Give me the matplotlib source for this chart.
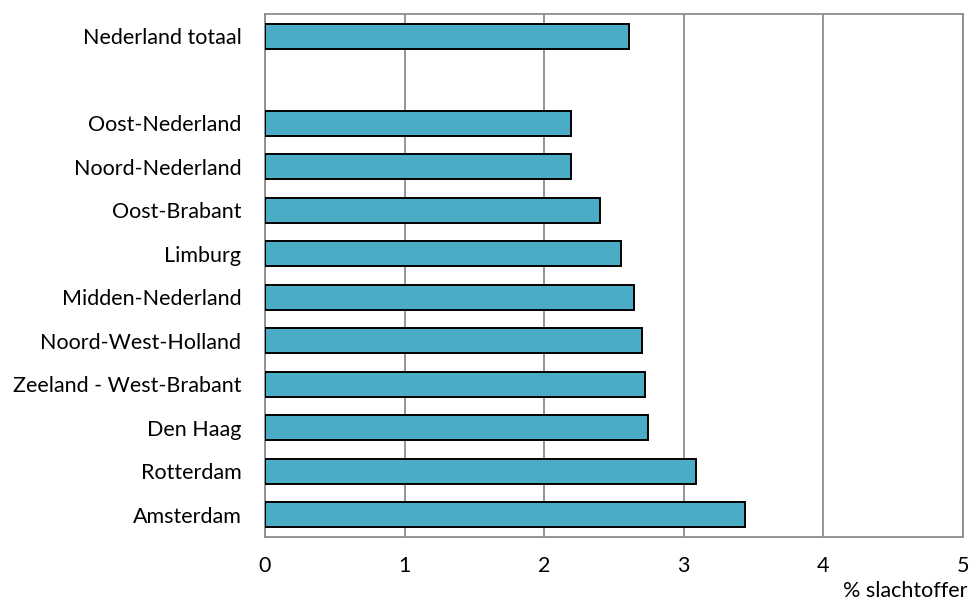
import matplotlib
matplotlib.use('Agg')
from matplotlib import pyplot as plt

# data, top to bottom (empty slot between total and regions)
regions = ['Nederland totaal', '', 'Oost-Nederland', 'Noord-Nederland', 'Oost-Brabant',
           'Limburg', 'Midden-Nederland', 'Noord-West-Holland', 'Zeeland - West-Brabant',
           'Den Haag', 'Rotterdam', 'Amsterdam']
values = [2.61, None, 2.19, 2.19, 2.40, 2.55, 2.64, 2.70, 2.72, 2.74, 3.09, 3.44]
xticks = [0, 1, 2, 3, 4, 5]

plt.rcParams['font.family'] = ['Lato', 'DejaVu Sans']
fs = 15.5

fig = plt.figure(figsize=(9.7, 6.01), dpi=100)
ax = fig.add_axes([0.2732, 0.1073, 0.7196, 0.8686])

pos = list(range(len(regions)))[::-1]
for p, v in zip(pos, values):
    if v is not None:
        ax.barh(p, v, height=0.58, color='#4BACC6', edgecolor='black', linewidth=1.4, zorder=3)

ax.set_yticks(pos)
ax.set_yticklabels(regions, fontsize=fs)
ax.set_ylim(-0.5, len(regions) - 0.5)
ax.set_xlim(0, 5)
ax.set_xticks(xticks)
ax.set_xticklabels([str(t) for t in xticks], fontsize=fs)
ax.tick_params(axis='both', length=0)
ax.tick_params(axis='x', pad=14)
ax.tick_params(axis='y', pad=17)

ax.grid(axis='x', color='#8c8c8c', linewidth=1.3, zorder=0)
for s in ax.spines.values():
    s.set_color('#8c8c8c')
    s.set_linewidth(1.3)

fig.text(968 / 970, 1 - 591 / 601, '% slachtoffer', ha='right', va='center', fontsize=fs)

plt.savefig('out.png', dpi=100)
